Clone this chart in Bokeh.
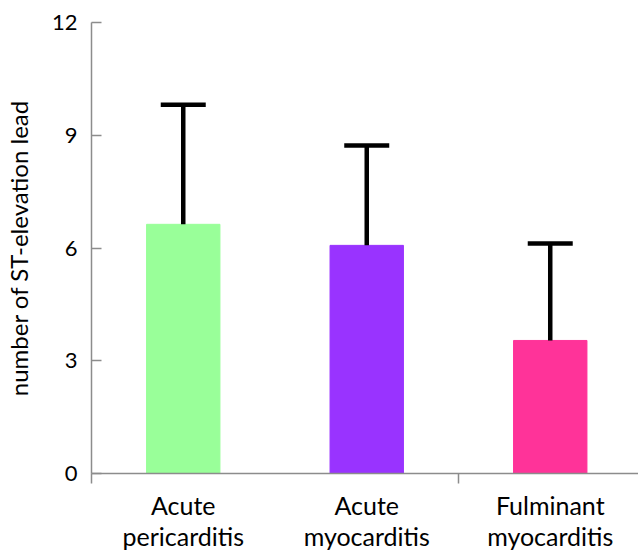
from bokeh.plotting import figure
from bokeh.models import ColumnDataSource, Range1d, FixedTicker, Whisker, TeeHead
from bokeh.embed import file_html
from bokeh.resources import INLINE

categories = ["Acute\npericarditis", "Acute\nmyocarditis", "Fulminant\nmyocarditis"]
means = [6.63, 6.07, 3.54]
upper = [9.81, 8.73, 6.12]
colors = ["#99FF99", "#9933FF", "#FF3399"]
y_ticks = [0, 3, 6, 9, 12]

xpos = [i + 0.5 for i in range(len(categories))]
source = ColumnDataSource(dict(x=xpos, mean=means, upper=upper, color=colors))

AX = "#8c8c8c"
FONT = "Lato"

p = figure(frame_width=547, frame_height=451, output_backend="svg", toolbar_location=None,
           x_range=Range1d(0, 2.981), y_range=Range1d(0, 12),
           min_border_left=84, min_border_right=0, min_border_top=22, min_border_bottom=78)
p.outline_line_color = None
p.xgrid.visible = False
p.ygrid.visible = False
p.background_fill_color = "white"

p.vbar(x="x", top="mean", width=0.4, color="color", source=source)

w = Whisker(source=source, base="x", lower="mean", upper="upper", dimension="height",
            line_width=4.5, line_color="black", level="overlay",
            upper_head=TeeHead(size=45, line_width=4.5, line_color="black"), lower_head=None)
p.add_layout(w)

# y axis
ya = p.yaxis[0]
ya.ticker = FixedTicker(ticks=y_ticks)
ya.axis_line_color = AX
ya.axis_line_width = 1.5
ya.major_tick_line_color = AX
ya.major_tick_line_width = 1.5
ya.major_tick_in = 10
ya.major_tick_out = 0
ya.minor_tick_line_color = None
ya.major_label_standoff = 14
ya.major_label_text_font = FONT
ya.major_label_text_font_size = "22px"
ya.major_label_text_color = "black"
ya.axis_label = "number of ST-elevation lead"
ya.axis_label_text_font = FONT
ya.axis_label_text_font_size = "24px"
ya.axis_label_text_font_style = "normal"
ya.axis_label_text_color = "black"
ya.axis_label_standoff = 16

# x axis
xa = p.xaxis[0]
xa.ticker = FixedTicker(ticks=xpos, minor_ticks=[0, 2])
xa.major_label_overrides = {x: c for x, c in zip(xpos, categories)}
xa.axis_line_color = AX
xa.axis_line_width = 1.5
xa.major_tick_line_color = None
xa.major_tick_in = 0
xa.major_tick_out = 0
xa.minor_tick_line_color = AX
xa.minor_tick_line_width = 1.5
xa.minor_tick_in = 0
xa.minor_tick_out = 10
xa.major_label_standoff = 6
xa.major_label_text_font = FONT
xa.major_label_text_font_size = "25px"
xa.major_label_text_line_height = 1.05
xa.major_label_text_color = "black"

open("out.html", "w").write(file_html(p, INLINE))
